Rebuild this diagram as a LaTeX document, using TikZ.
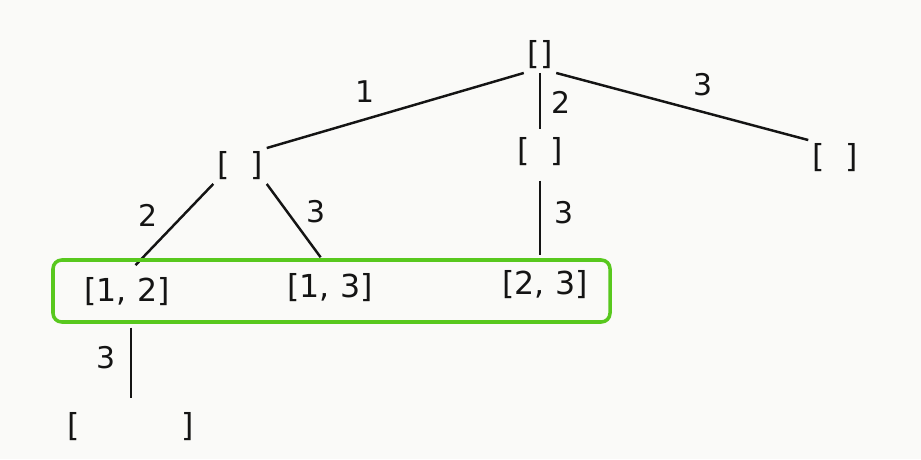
\documentclass[tikz,border=0pt]{standalone}
\usepackage{fontspec}
\setmainfont{DejaVu Sans}
\usetikzlibrary{positioning}
\definecolor{paper}{RGB}{250,250,248}
\definecolor{boxgreen}{RGB}{88,200,30}
\definecolor{ink}{RGB}{20,20,20}

\tikzset{
  state/.style={text=ink,font=\fontsize{18}{20}\selectfont,inner sep=2pt},
  choice/.style={text=ink,font=\fontsize{17}{20}\selectfont,inner sep=1pt},
  branch/.style={draw=ink,line width=1.4pt},
  leafbox/.style={draw=boxgreen,line width=2pt,rounded corners=5pt}
}

\begin{document}
\begin{tikzpicture}
            \fill[paper] (0,0) rectangle (18.42,-9.18);
            \useasboundingbox (0,0) rectangle (18.42,-9.18);

            % states
            \node[state] (root) at (10.8,-1.1) {[]};
            \node[state] (l1) at (4.8,-3.32) {[\hspace{12pt}]};
            \node[state] (m1) at (10.8,-3.04) {[\hspace{12pt}]};
            \node[state] (r1) at (16.7,-3.16) {[\hspace{12pt}]};
            \node[state] (ab12) at (2.54,-5.84) {[1, 2]};
            \node[state] (ab13) at (6.6,-5.76) {[1, 3]};
            \node[state] (ab23) at (10.9,-5.7) {[2, 3]};
            \node[state] (bottom) at (2.62,-8.54) {[\hspace{58pt}]};

            % branches
            \draw[branch] (root.south west) -- (l1.north east);
            \draw[branch,shorten >=3pt] (root) -- (root |- m1.north);
            \draw[branch] (root.south east) -- (r1.north west);
            \draw[branch,shorten >=7pt] (l1.south west) -- (ab12.north);
            \draw[branch,shorten >=9pt] (l1.south east) -- (ab13.north);
            \draw[branch,shorten <=6pt,shorten >=7pt] (m1) -- (m1 |- ab23.north);
            \draw[branch,shorten <=10pt,shorten >=6pt] (ab12.south -| bottom) -- (bottom.north);

            % choices
            \node[choice] (c1) at (7.3,-1.84) {1};
            \node[choice] (c2) at (11.22,-2.04) {2};
            \node[choice] (c3) at (14.06,-1.7) {3};
            \node[choice] (c12) at (2.96,-4.3) {2};
            \node[choice] (c13) at (6.32,-4.24) {3};
            \node[choice] (c23) at (11.28,-4.26) {3};
            \node[choice] (c123) at (2.12,-7.16) {3};

            % results of size two
            \draw[leafbox] (1.06,-5.2) rectangle (12.2,-6.44);
        \end{tikzpicture}
\end{document}
